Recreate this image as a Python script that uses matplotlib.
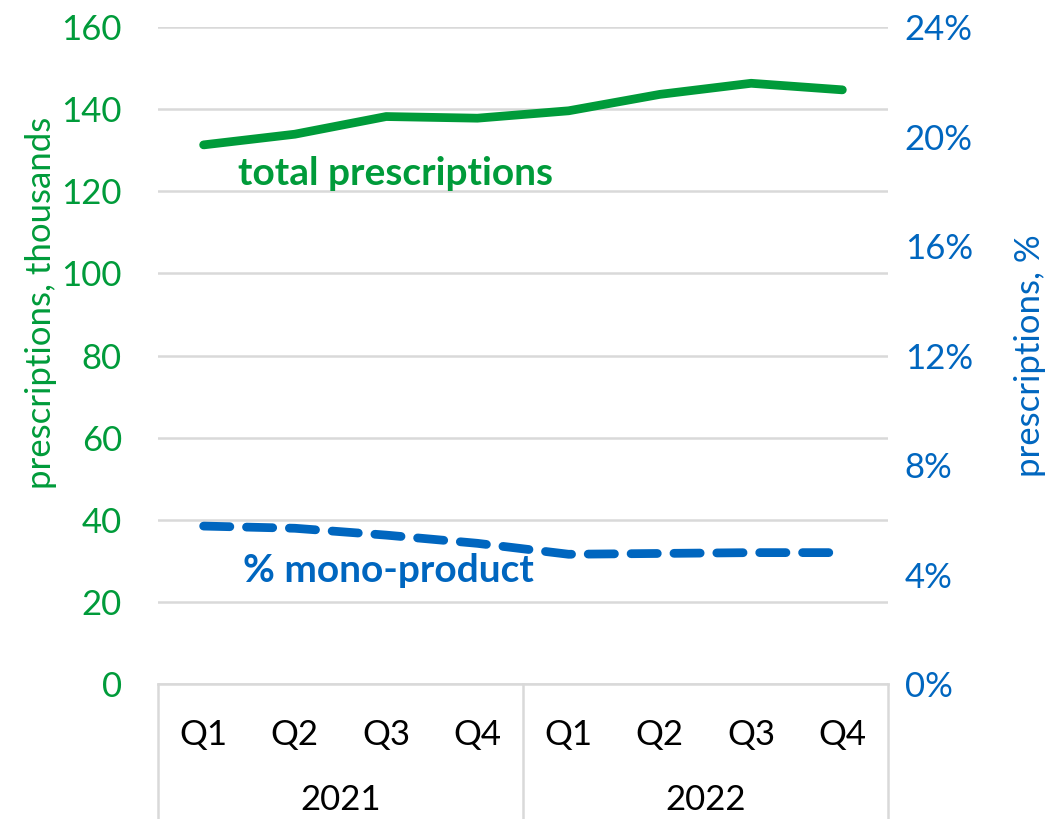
import matplotlib.pyplot as plt
from matplotlib.ticker import FuncFormatter

plt.rcParams['font.family'] = ['Lato', 'DejaVu Sans']

# data
quarters = ['Q1', 'Q2', 'Q3', 'Q4', 'Q1', 'Q2', 'Q3', 'Q4']
years = ['2021', '2022']
total_rx = [131.3, 133.9, 138.2, 137.8, 139.6, 143.6, 146.3, 144.7]
mono_pct = [5.77, 5.69, 5.44, 5.14, 4.74, 4.77, 4.80, 4.80]

green = '#009B3A'
blue = '#0066BF'
grid_c = '#D9D9D9'

fig = plt.figure(figsize=(10.59, 8.19), dpi=100)
ax = fig.add_axes([0.1492, 0.1648, 0.6893, 0.8022])
ax2 = ax.twinx()

x = range(len(quarters))
ax.plot(x, total_rx, color=green, lw=6.3, solid_capstyle='round', zorder=3)
ax2.plot(x, mono_pct, color=blue, lw=6.3, dashes=(3.0, 1.9), dash_capstyle='round', zorder=3)

ax.set_xlim(-0.5, len(quarters) - 0.5)
ax.set_ylim(0, 160)
ax.set_yticks(range(0, 161, 20))
ax2.set_ylim(0, 24)
ax2.set_yticks(range(0, 25, 4))
ax2.yaxis.set_major_formatter(FuncFormatter(lambda v, p: f'{int(v)}%'))

ax.grid(axis='y', color=grid_c, lw=1.8)
ax.set_axisbelow(True)
for a in (ax, ax2):
    for s in a.spines.values():
        s.set_visible(False)
ax.spines['bottom'].set_visible(True)
ax.spines['bottom'].set_color(grid_c)
ax.spines['bottom'].set_linewidth(1.8)

ax.set_xticks(list(x))
ax.set_xticklabels(quarters)
ax.tick_params(axis='x', length=0, labelsize=25, pad=25)
ax.tick_params(axis='y', length=0, labelsize=25, labelcolor=green, pad=26)
ax2.tick_params(axis='y', length=0, labelsize=25, labelcolor=blue, pad=12)

ax.set_ylabel('prescriptions, thousands', color=green, fontsize=25, labelpad=3, y=0.58)
ax2.set_ylabel('prescriptions, %', color=blue, fontsize=25, labelpad=30)

# year grouping below the quarter labels
tr = ax.get_xaxis_transform()
for xs in (-0.5, 3.5, 7.5):
    ax.plot([xs, xs], [0, -0.21], color=grid_c, lw=1.8, transform=tr, clip_on=False)
for i, yr in enumerate(years):
    ax.text(1.5 + 4 * i, -0.177, yr, transform=tr, ha='center', va='center', fontsize=25)

ax.text(0.38, 124.4, 'total prescriptions', color=green, fontsize=28,
        fontweight='bold', ha='left', va='center')
ax2.text(0.43, 4.13, '% mono-product', color=blue, fontsize=28,
         fontweight='bold', ha='left', va='center')

fig.savefig('out.png', dpi=100)
